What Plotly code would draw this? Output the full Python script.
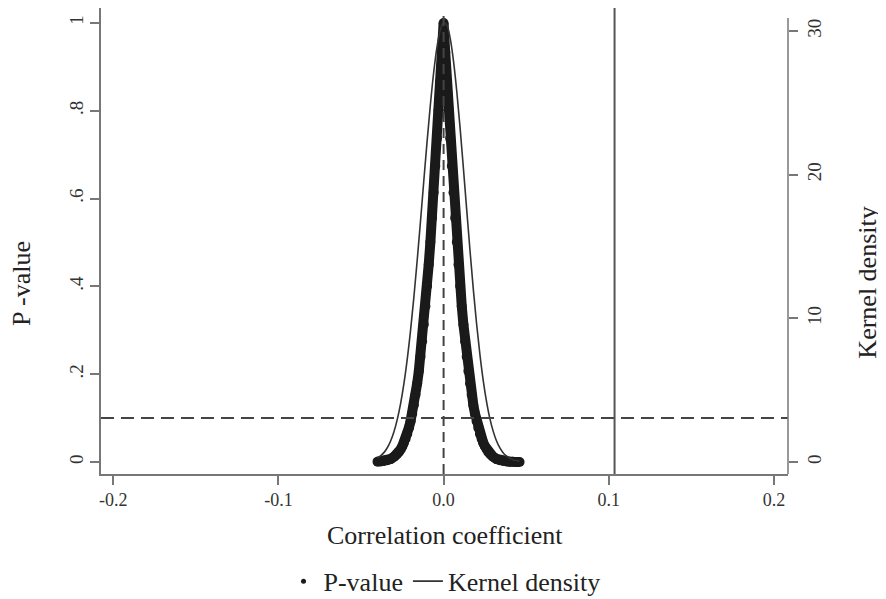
import plotly.graph_objects as go

# ---- data ----
# P-value scatter: correlation coefficients and their p-values
r_left = [-0.040, -0.038, -0.036, -0.034, -0.032, -0.030, -0.029, -0.028, -0.027, -0.026,
          -0.025, -0.024, -0.023, -0.022, -0.021, -0.020, -0.019, -0.018, -0.017, -0.016,
          -0.015, -0.014, -0.013, -0.012, -0.011, -0.010, -0.009, -0.008, -0.007, -0.006,
          -0.005, -0.004, -0.003, -0.002, -0.001, 0.000]
p_left = [0.0008, 0.0014, 0.0025, 0.004, 0.007, 0.012, 0.015, 0.019, 0.023, 0.029,
          0.036, 0.044, 0.053, 0.064, 0.078, 0.093, 0.110, 0.130, 0.153, 0.179,
          0.207, 0.240, 0.275, 0.313, 0.355, 0.401, 0.450, 0.501, 0.556, 0.614,
          0.674, 0.737, 0.801, 0.867, 0.933, 1.000]
r_right = [0.000, 0.001, 0.002, 0.003, 0.004, 0.005, 0.006, 0.007, 0.008, 0.009,
           0.010, 0.011, 0.012, 0.013, 0.014, 0.015, 0.016, 0.017, 0.018, 0.019,
           0.020, 0.021, 0.022, 0.023, 0.024, 0.025, 0.026, 0.027, 0.028, 0.029,
           0.030, 0.032, 0.034, 0.036, 0.038, 0.040, 0.042, 0.044, 0.046]
p_right = [1.000, 0.933, 0.867, 0.801, 0.737, 0.674, 0.614, 0.556, 0.501, 0.450,
           0.401, 0.355, 0.313, 0.275, 0.240, 0.207, 0.179, 0.153, 0.130, 0.110,
           0.093, 0.078, 0.064, 0.053, 0.044, 0.036, 0.029, 0.023, 0.019, 0.015,
           0.012, 0.007, 0.004, 0.0025, 0.0014, 0.0008, 0.0004, 0.0002, 0.0001]

# Kernel density of the correlation coefficients
kd_x = [-0.040, -0.038, -0.036, -0.034, -0.032, -0.030, -0.028, -0.026, -0.024, -0.022,
        -0.020, -0.018, -0.016, -0.014, -0.012, -0.010, -0.008, -0.006, -0.004, -0.002,
        0.000, 0.002, 0.004, 0.006, 0.008, 0.010, 0.012, 0.014, 0.016, 0.018,
        0.020, 0.022, 0.024, 0.026, 0.028, 0.030, 0.032, 0.034, 0.036, 0.038,
        0.040, 0.042, 0.044, 0.046]
kd_y = [0.28, 0.44, 0.67, 1.01, 1.48, 2.12, 2.98, 4.08, 5.47, 7.16,
        9.16, 11.46, 14.01, 16.74, 19.54, 22.30, 24.87, 27.11, 28.87, 30.06,
        30.58, 30.39, 29.48, 27.90, 25.77, 23.24, 20.44, 17.55, 14.70, 12.02,
        9.59, 7.47, 5.67, 4.21, 3.04, 2.15, 1.48, 1.00, 0.65, 0.42,
        0.26, 0.16, 0.10, 0.06]

x_ticks = [-0.2, -0.1, 0.0, 0.1, 0.2]
x_ticktext = ["-0.2", "-0.1", "0.0", "0.1", "0.2"]
y_ticks = [0, 0.2, 0.4, 0.6, 0.8, 1.0]
y_ticktext = ["0", ".2", ".4", ".6", ".8", "1"]
y2_ticks = [0, 10, 20, 30]
y2_ticktext = ["0", "10", "20", "30"]

p_threshold = 0.1
r_zero = 0.0
r_critical = 0.1035

FONT = "Liberation Serif"
AX = "#777777"
INK = "#1a1a1a"

fig = go.Figure()

r_all = r_left + r_right[1:]
p_all = p_left + p_right[1:]

# thick band joining the dense scatter points
fig.add_trace(go.Scatter(x=r_all, y=p_all, mode="lines", line=dict(color=INK, width=10),
                         showlegend=False, hoverinfo="skip"))
fig.add_trace(go.Scatter(x=r_all, y=p_all, mode="markers",
                         marker=dict(color=INK, size=10), showlegend=False))
# legend proxy with small dot
fig.add_trace(go.Scatter(x=[None], y=[None], mode="markers", name="P-value",
                         marker=dict(color=INK, size=5)))
fig.add_trace(go.Scatter(x=kd_x, y=kd_y, mode="lines", name="Kernel density",
                         line=dict(color="#333333", width=1.6, shape="spline"),
                         yaxis="y2"))

fig.update_layout(
    width=886, height=599,
    margin=dict(l=93, r=106, t=0, b=133, autoexpand=False),
    paper_bgcolor="white", plot_bgcolor="white",
    font=dict(family=FONT, color="#222222", size=18),
    xaxis=dict(range=[-0.2074, 0.2085], tickvals=x_ticks, ticktext=x_ticktext,
               showline=True, linecolor=AX, linewidth=1.5, ticks="outside",
               ticklen=9, tickcolor=AX, tickwidth=1.5, showgrid=False, zeroline=False,
               automargin=False, ticklabelstandoff=0,
               tickfont=dict(size=18, family=FONT, color="#333333")),
    yaxis=dict(range=[-0.0273, 1.034], tickvals=y_ticks, ticktext=y_ticktext,
               tickangle=-90, showline=True, linecolor=AX, linewidth=1.5,
               ticks="outside", ticklen=9, tickcolor=AX, tickwidth=1.5,
               showgrid=False, zeroline=False, automargin=False,
               tickfont=dict(size=19, family=FONT, color="#333333")),
    yaxis2=dict(range=[-0.835, 31.6], overlaying="y", side="right",
                tickvals=y2_ticks, ticktext=y2_ticktext, tickangle=-90,
                showline=False, ticks="outside", ticklen=9, tickcolor=AX,
                tickwidth=1.5, showgrid=False, zeroline=False, automargin=False,
                tickfont=dict(size=19, family=FONT, color="#333333")),
    legend=dict(orientation="h", x=0.5, xanchor="center", y=0.043, yref="container",
                yanchor="middle",
                font=dict(size=26, family=FONT, color="#222222"),
                itemwidth=30, tracegroupgap=0, bgcolor="rgba(0,0,0,0)"),
    showlegend=True,
)

# reference lines
fig.add_shape(type="line", xref="paper", x0=0, x1=1, yref="y", y0=p_threshold, y1=p_threshold,
              line=dict(color="#444444", width=2, dash="13px,7px"))
fig.add_shape(type="line", xref="x", x0=r_zero, x1=r_zero, yref="paper", y0=0, y1=0.99,
              line=dict(color="#444444", width=2, dash="10px,6px"))
fig.add_shape(type="line", xref="x", x0=r_critical, x1=r_critical, yref="paper", y0=0, y1=1,
              line=dict(color="#555555", width=2))
# right axis line
fig.add_shape(type="line", xref="paper", x0=1, x1=1, yref="y2", y0=-0.835, y1=30.9,
              line=dict(color=AX, width=1.5))

# axis titles
fig.add_annotation(text="P -value", xref="paper", yref="paper", x=-0.115, y=0.41,
                   xanchor="center", yanchor="middle",
                   showarrow=False, textangle=-90, font=dict(size=26, family=FONT, color="#222222"))
fig.add_annotation(text="Kernel density", xref="paper", yref="paper", x=1.116, y=0.41,
                   xanchor="center", yanchor="middle",
                   showarrow=False, textangle=-90, font=dict(size=26, family=FONT, color="#222222"))
fig.add_annotation(text="Correlation coefficient", xref="paper", yref="paper", x=0.5, y=-0.131,
                   xanchor="center", yanchor="middle",
                   showarrow=False, font=dict(size=26, family=FONT, color="#222222"))

fig.write_html("out.html")
